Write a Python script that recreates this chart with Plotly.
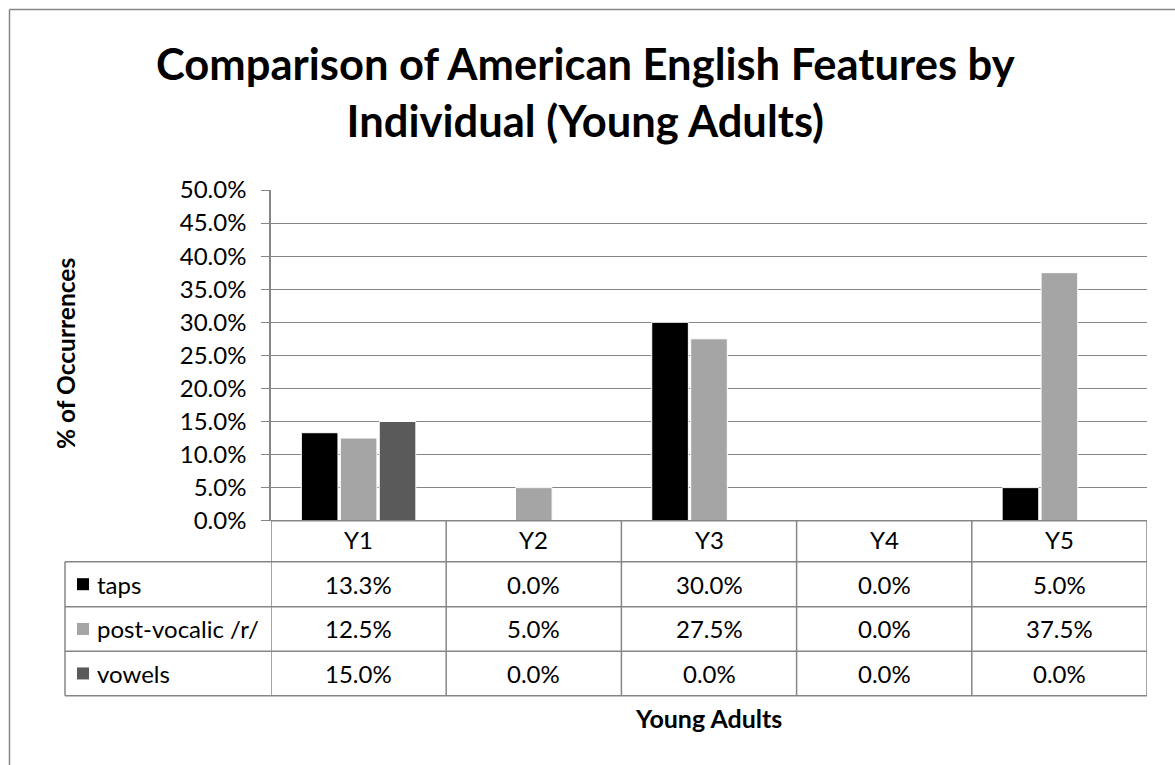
import plotly.graph_objects as go

# Data
categories = ["Y1", "Y2", "Y3", "Y4", "Y5"]
series_names = ["taps", "post-vocalic /r/", "vowels"]
taps = [13.3, 0.0, 30.0, 0.0, 5.0]
post_vocalic_r = [12.5, 5.0, 27.5, 0.0, 37.5]
vowels = [15.0, 0.0, 0.0, 0.0, 0.0]
series_values = [taps, post_vocalic_r, vowels]
series_colors = ["#000000", "#A5A5A5", "#5A5A5A"]
y_ticks = [0, 5, 10, 15, 20, 25, 30, 35, 40, 45, 50]

W, H = 1175, 765
FONT = "Lato, 'Open Sans', sans-serif"
GRID = "#868686"
TXT = 24


def px(x):
    return x / W


def py(y):
    return 1 - y / H


# Pixel layout of the plot area and the data table beneath it
PLOT_L, PLOT_R = 271, 1147
PLOT_T, PLOT_B = 190, 520.7
TABLE_L = 65
ROW_Y = [PLOT_B, 561.7, 606.7, 651.2, 695.7]

fig = go.Figure()
xs = list(range(len(categories)))
for name, vals, col in zip(series_names, series_values, series_colors):
    fig.add_trace(go.Bar(
        x=xs, y=[v / 100 for v in vals], name=name,
        marker=dict(color=col, line=dict(color="white", width=1)),
        showlegend=False,
    ))

shapes = []
annotations = []

# Outer chart frame (right and bottom edges run off the page)
shapes.append(dict(type="line", xref="paper", yref="paper",
                   x0=px(9.5), x1=1, y0=py(9.5), y1=py(9.5),
                   line=dict(color="#868686", width=1.5)))
shapes.append(dict(type="line", xref="paper", yref="paper",
                   x0=px(9.5), x1=px(9.5), y0=0, y1=py(9.5),
                   line=dict(color="#868686", width=1.5)))

# Table horizontal rules
shapes.append(dict(type="line", xref="paper", yref="paper",
                   x0=px(PLOT_L), x1=px(PLOT_R), y0=py(ROW_Y[0]), y1=py(ROW_Y[0]),
                   line=dict(color=GRID, width=1.5)))
for yy in ROW_Y[1:]:
    shapes.append(dict(type="line", xref="paper", yref="paper",
                       x0=px(TABLE_L), x1=px(PLOT_R), y0=py(yy), y1=py(yy),
                       line=dict(color=GRID, width=1.5)))

# Table vertical rules: category boundaries follow the x axis
for i in range(len(categories) + 1):
    shapes.append(dict(type="line", xref="x", yref="paper",
                       x0=i - 0.5, x1=i - 0.5, y0=py(ROW_Y[0]), y1=py(ROW_Y[-1]),
                       line=dict(color=GRID, width=1.5)))
shapes.append(dict(type="line", xref="paper", yref="paper",
                   x0=px(TABLE_L), x1=px(TABLE_L), y0=py(ROW_Y[1]), y1=py(ROW_Y[-1]),
                   line=dict(color=GRID, width=1.5)))

# Category header cells
for i, c in enumerate(categories):
    annotations.append(dict(xref="x", yref="paper", x=i,
                            y=py((ROW_Y[0] + ROW_Y[1]) / 2 - 2), text=c,
                            showarrow=False, font=dict(family=FONT, size=TXT, color="black"),
                            xanchor="center", yanchor="middle"))

# Series rows: legend key + values
for r, (name, vals, col) in enumerate(zip(series_names, series_values, series_colors)):
    ymid = (ROW_Y[r + 1] + ROW_Y[r + 2]) / 2
    shapes.append(dict(type="rect", xref="paper", yref="paper",
                       x0=px(77), x1=px(89), y0=py(ymid + 6), y1=py(ymid - 6),
                       fillcolor=col, line=dict(width=0)))
    annotations.append(dict(xref="paper", yref="paper", x=px(95), y=py(ymid),
                            text=name, showarrow=False,
                            font=dict(family=FONT, size=TXT, color="black"),
                            xanchor="left", yanchor="middle"))
    for i, v in enumerate(vals):
        annotations.append(dict(xref="x", yref="paper", x=i, y=py(ymid),
                                text=f"{v:.1f}%", showarrow=False,
                                font=dict(family=FONT, size=TXT, color="black"),
                                xanchor="center", yanchor="middle"))

# Title and axis titles
annotations.append(dict(xref="paper", yref="paper", x=px(585), y=py(91),
                        text="<b>Comparison of American English Features by<br>Individual (Young Adults)</b>",
                        showarrow=False, font=dict(family=FONT, size=43.5, color="black"),
                        xanchor="center", yanchor="middle"))
annotations.append(dict(xref="paper", yref="paper", x=px(65), y=py(354),
                        text="<b>% of Occurrences</b>", textangle=-90,
                        showarrow=False, font=dict(family=FONT, size=24.5, color="black"),
                        xanchor="center", yanchor="middle"))
annotations.append(dict(xref="paper", yref="paper", x=px(708), y=py(718),
                        text="<b>Young Adults</b>",
                        showarrow=False, font=dict(family=FONT, size=25, color="black"),
                        xanchor="center", yanchor="middle"))

fig.update_layout(
    width=W, height=H,
    margin=dict(l=0, r=0, t=0, b=0, pad=0),
    paper_bgcolor="white", plot_bgcolor="white",
    barmode="group", bargap=0.333, bargroupgap=0.06,
    xaxis=dict(domain=[px(PLOT_L), px(PLOT_R)], range=[-0.5, len(categories) - 0.5],
               showticklabels=False, showgrid=False, zeroline=False, showline=False,
               ticks="", automargin=False),
    yaxis=dict(domain=[py(PLOT_B), py(PLOT_T)], range=[0, 0.5],
               tickvals=[t / 100 for t in y_ticks],
               ticktext=[f"{t:.1f}%" for t in y_ticks],
               tickfont=dict(family=FONT, size=TXT, color="black"),
               showgrid=True, gridcolor=GRID, gridwidth=1.2,
               zeroline=False, showline=True, linecolor=GRID, linewidth=1.5,
               ticks="outside", ticklen=8, tickcolor=GRID, tickwidth=1.2,
               ticklabelstandoff=10, automargin=False),
    shapes=shapes, annotations=annotations,
)

fig.write_html("out.html")
